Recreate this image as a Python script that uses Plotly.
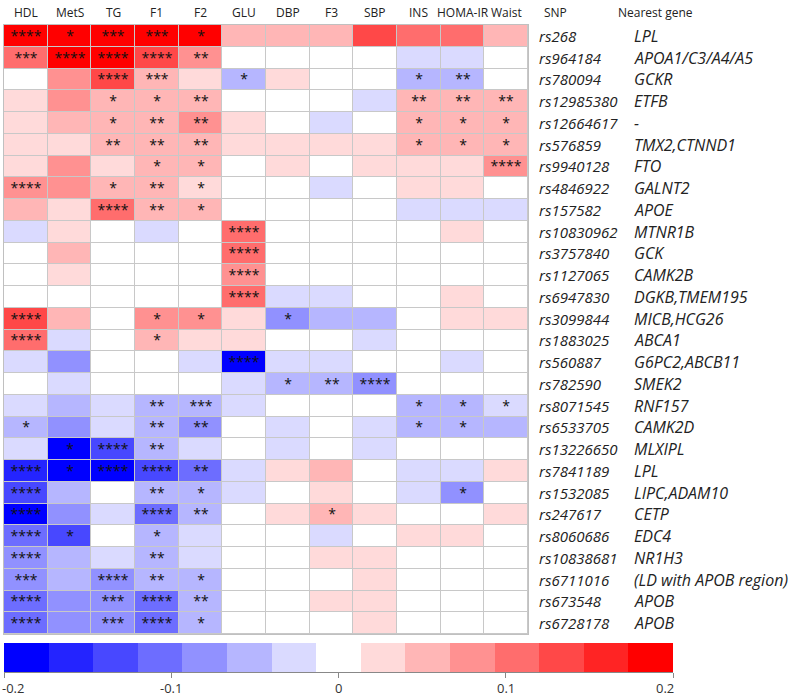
import numpy as np
import plotly.graph_objects as go

traits = ["HDL", "MetS", "TG", "F1", "F2", "GLU", "DBP", "F3", "SBP", "INS", "HOMA-IR", "Waist"]
snps = ["rs268", "rs964184", "rs780094", "rs12985380", "rs12664617", "rs576859", "rs9940128",
        "rs4846922", "rs157582", "rs10830962", "rs3757840", "rs1127065", "rs6947830", "rs3099844",
        "rs1883025", "rs560887", "rs782590", "rs8071545", "rs6533705", "rs13226650", "rs7841189",
        "rs1532085", "rs247617", "rs8060686", "rs10838681", "rs6711016", "rs673548", "rs6728178"]
genes = ["LPL", "APOA1/C3/A4/A5", "GCKR", "ETFB", "-", "TMX2,CTNND1", "FTO", "GALNT2", "APOE",
         "MTNR1B", "GCK", "CAMK2B", "DGKB,TMEM195", "MICB,HCG26", "ABCA1", "G6PC2,ABCB11", "SMEK2",
         "RNF157", "CAMK2D", "MLXIPL", "LPL", "LIPC,ADAM10", "CETP", "EDC4", "NR1H3",
         "(LD with APOB region)", "APOB", "APOB"]

effects = [
    [0.19, 0.19, 0.19, 0.19, 0.19, 0.05, 0.05, 0.05, 0.13, 0.11, 0.11, 0.05],
    [0.11, 0.19, 0.19, 0.13, 0.08, 0, 0, 0, 0, -0.03, -0.03, 0],
    [0, 0.08, 0.13, 0.05, 0.03, -0.05, 0.03, 0, 0, -0.05, -0.05, 0],
    [0.03, 0.08, 0.05, 0.05, 0.05, 0, 0, 0, -0.03, 0.05, 0.05, 0.05],
    [0.03, 0.05, 0.05, 0.05, 0.08, 0.03, 0, -0.03, 0, 0.05, 0.05, 0.05],
    [0.03, 0.03, 0.05, 0.05, 0.05, 0.03, 0.03, 0.03, 0.03, 0.05, 0.05, 0.05],
    [0.03, 0.08, 0.03, 0.05, 0.05, 0, 0.03, 0, 0.03, 0.03, 0.03, 0.08],
    [0.08, 0.08, 0.05, 0.05, 0.03, 0, 0, -0.03, 0, 0.03, 0.03, 0],
    [0.05, 0.03, 0.11, 0.05, 0.05, 0, 0, 0, 0, -0.03, -0.03, -0.03],
    [-0.03, 0.03, 0, -0.03, 0, 0.11, 0, 0, 0, 0, 0.03, 0],
    [0, 0.05, 0, 0, 0, 0.11, 0, 0, 0, 0, 0, 0],
    [0, 0.03, 0, 0, 0, 0.08, 0, 0, 0, 0, 0, 0],
    [0, 0, 0, 0, 0, 0.11, -0.03, -0.03, 0, 0, 0.03, 0],
    [0.13, 0.05, 0, 0.08, 0.08, 0.03, -0.08, -0.05, -0.05, 0, 0.03, 0.03],
    [0.11, -0.03, 0, 0.05, 0.03, 0.03, 0, 0, -0.03, 0, 0, 0],
    [-0.03, -0.08, 0, 0, -0.03, -0.19, -0.03, -0.03, 0, 0, -0.03, 0],
    [0, -0.03, 0, 0, 0, -0.03, -0.05, -0.05, -0.08, 0, 0, 0],
    [-0.03, -0.05, -0.03, -0.05, -0.05, -0.03, 0, 0, 0, -0.05, -0.05, -0.03],
    [-0.05, -0.08, -0.03, -0.05, -0.08, 0, -0.03, 0, -0.03, -0.05, -0.05, -0.05],
    [-0.03, -0.19, -0.13, -0.05, -0.03, 0, -0.03, 0, -0.03, 0, 0, 0],
    [-0.16, -0.19, -0.19, -0.13, -0.11, -0.03, 0.03, 0.05, 0, -0.03, -0.03, 0.03],
    [-0.13, -0.05, 0, -0.05, -0.05, -0.03, 0, 0.03, 0, -0.03, -0.08, 0],
    [-0.19, -0.08, -0.03, -0.11, -0.05, 0, 0.03, 0.05, 0.03, 0, 0, 0.03],
    [-0.11, -0.13, 0, -0.05, -0.03, 0, 0, -0.03, 0, 0.03, 0.03, 0],
    [-0.08, -0.05, -0.03, -0.05, -0.03, 0, 0, 0.03, 0.03, 0, 0, 0],
    [-0.08, -0.05, -0.08, -0.05, -0.05, 0, 0, 0, 0.03, 0, 0, 0],
    [-0.11, -0.08, -0.08, -0.11, -0.05, 0, 0, 0.03, 0.03, 0, 0, 0],
    [-0.11, -0.08, -0.08, -0.11, -0.05, 0, 0, 0, 0.03, 0, 0, 0],
]

stars = [
    ["****", "*", "***", "***", "*", "", "", "", "", "", "", ""],
    ["***", "****", "****", "****", "**", "", "", "", "", "", "", ""],
    ["", "", "****", "***", "", "*", "", "", "", "*", "**", ""],
    ["", "", "*", "*", "**", "", "", "", "", "**", "**", "**"],
    ["", "", "*", "**", "**", "", "", "", "", "*", "*", "*"],
    ["", "", "**", "**", "**", "", "", "", "", "*", "*", "*"],
    ["", "", "", "*", "*", "", "", "", "", "", "", "****"],
    ["****", "", "*", "**", "*", "", "", "", "", "", "", ""],
    ["", "", "****", "**", "*", "", "", "", "", "", "", ""],
    ["", "", "", "", "", "****", "", "", "", "", "", ""],
    ["", "", "", "", "", "****", "", "", "", "", "", ""],
    ["", "", "", "", "", "****", "", "", "", "", "", ""],
    ["", "", "", "", "", "****", "", "", "", "", "", ""],
    ["****", "", "", "*", "*", "", "*", "", "", "", "", ""],
    ["****", "", "", "*", "", "", "", "", "", "", "", ""],
    ["", "", "", "", "", "****", "", "", "", "", "", ""],
    ["", "", "", "", "", "", "*", "**", "****", "", "", ""],
    ["", "", "", "**", "***", "", "", "", "", "*", "*", "*"],
    ["*", "", "", "**", "**", "", "", "", "", "*", "*", ""],
    ["", "*", "****", "**", "", "", "", "", "", "", "", ""],
    ["****", "*", "****", "****", "**", "", "", "", "", "", "", ""],
    ["****", "", "", "**", "*", "", "", "", "", "", "*", ""],
    ["****", "", "", "****", "**", "", "", "*", "", "", "", ""],
    ["****", "*", "", "*", "", "", "", "", "", "", "", ""],
    ["****", "", "", "**", "", "", "", "", "", "", "", ""],
    ["***", "", "****", "**", "*", "", "", "", "", "", "", ""],
    ["****", "", "***", "****", "**", "", "", "", "", "", "", ""],
    ["****", "", "***", "****", "*", "", "", "", "", "", "", ""],
]

legend_levels = [-0.187, -0.16, -0.133, -0.107, -0.08, -0.053, -0.027, 0,
                 0.027, 0.053, 0.08, 0.107, 0.133, 0.16, 0.187]
legend_ticks = [-0.2, -0.1, 0, 0.1, 0.2]
legend_ticktext = ["-0.2", "-0.1", "0", "0.1", "0.2"]

step_colors = ["#0000FF", "#2424FF", "#4848FF", "#6D6DFF", "#9191FF", "#B6B6FF", "#DADAFF",
               "#FFFFFF", "#FFDADA", "#FFB6B6", "#FF9191", "#FF6D6D", "#FF4848", "#FF2424", "#FF0000"]
n = len(step_colors)
colorscale = []
for i, c in enumerate(step_colors):
    colorscale.append([i / n, c])
    colorscale.append([(i + 1) / n, c])

W, H = 800, 699
FONT = "Open Sans"
TXT = "#222222"

def px_x(p):
    return p / W

def px_y(p):
    return 1 - p / H

fig = go.Figure()
fig.add_trace(go.Heatmap(
    z=effects, x=list(range(len(traits))), y=list(range(len(snps))),
    text=stars, texttemplate="%{text}",
    textfont=dict(family=FONT, size=14, color="#111111"),
    colorscale=colorscale, zmin=-0.2, zmax=0.2, showscale=False,
    xgap=1, ygap=1, hoverinfo="skip",
    xaxis="x", yaxis="y",
))

edges = np.linspace(legend_ticks[0], legend_ticks[-1], len(legend_levels) + 1)
fig.add_trace(go.Heatmap(
    z=[legend_levels], x=edges, y=[0],
    colorscale=colorscale, zmin=-0.2, zmax=0.2, showscale=False,
    hoverinfo="skip", xaxis="x2", yaxis="y2",
))

annotations = []
for j, t in enumerate(traits):
    annotations.append(dict(x=j, y=px_y(12), xref="x", yref="paper", text=t, showarrow=False,
                            font=dict(family=FONT, size=12, color=TXT),
                            xanchor="center", yanchor="middle"))
annotations.append(dict(x=px_x(542), y=px_y(12), xref="paper", yref="paper", text="SNP",
                        showarrow=False, font=dict(family=FONT, size=12, color=TXT),
                        xanchor="left", yanchor="middle"))
annotations.append(dict(x=px_x(616), y=px_y(12), xref="paper", yref="paper", text="Nearest gene",
                        showarrow=False, font=dict(family=FONT, size=12, color=TXT),
                        xanchor="left", yanchor="middle"))
for i, (s, g) in enumerate(zip(snps, genes)):
    annotations.append(dict(x=px_x(537), y=i, xref="paper", yref="y", text="<i>%s</i>" % s,
                            showarrow=False, font=dict(family=FONT, size=15, color=TXT),
                            xanchor="left", yanchor="middle"))
    annotations.append(dict(x=px_x(632), y=i, xref="paper", yref="y", text="<i>%s</i>" % g,
                            showarrow=False, font=dict(family=FONT, size=16, color=TXT),
                            xanchor="left", yanchor="middle"))

anchors = ["left", "center", "center", "center", "right"]
shifts = [-4, 0, 0, 0, 3]
for v, lab, a, s in zip(legend_ticks, legend_ticktext, anchors, shifts):
    annotations.append(dict(x=v, y=px_y(688), xref="x2", yref="paper", text=lab, showarrow=False,
                            font=dict(family=FONT, size=13, color="#333333"),
                            xanchor=a, yanchor="middle", xshift=s))

fig.update_layout(
    width=W, height=H,
    margin=dict(l=0, r=0, t=0, b=0),
    paper_bgcolor="white", plot_bgcolor="#C8C8C8",
    xaxis=dict(domain=[px_x(4), px_x(528)], range=[-0.5, len(traits) - 0.5],
               showticklabels=False, ticks="", showgrid=False, zeroline=False,
               showline=True, linecolor="#C0C0C0", linewidth=1, mirror=True, anchor="y"),
    yaxis=dict(domain=[px_y(634), px_y(25)], range=[len(snps) - 0.5, -0.5],
               showticklabels=False, ticks="", showgrid=False, zeroline=False,
               showline=True, linecolor="#C0C0C0", linewidth=1, mirror=True, anchor="x"),
    xaxis2=dict(domain=[px_x(4), px_x(673)], range=[legend_ticks[0], legend_ticks[-1]],
                tickvals=legend_ticks, showticklabels=False, ticks="outside", ticklen=5,
                tickcolor="#888888", showline=True, linecolor="#888888", linewidth=1,
                showgrid=False, zeroline=False, anchor="y2"),
    yaxis2=dict(domain=[px_y(672), px_y(643)], range=[-0.5, 0.5], visible=False, anchor="x2"),
    annotations=annotations,
    showlegend=False,
)

fig.write_html("out.html", config={"displayModeBar": False},
               post_script="document.body.style.margin='0px';")
